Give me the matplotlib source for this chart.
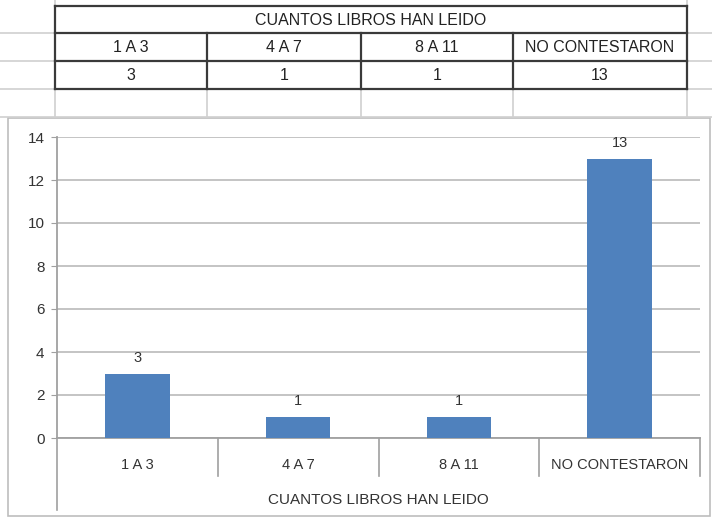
import matplotlib
matplotlib.use("Agg")
import matplotlib.pyplot as plt

plt.rcParams['font.family'] = ['Liberation Sans Narrow', 'Liberation Sans', 'DejaVu Sans']

# data
titulo = "CUANTOS LIBROS HAN LEIDO"
categorias = ["1 A 3", "4 A 7", "8 A 11", "NO CONTESTARON"]
valores = [3, 1, 1, 13]
yticks = [0, 2, 4, 6, 8, 10, 12, 14]

W, H = 712, 519
fig = plt.figure(figsize=(W / 100, H / 100), dpi=100)

# background "spreadsheet" in pixel coords
bg = fig.add_axes([0, 0, 1, 1])
bg.set_xlim(0, W)
bg.set_ylim(H, 0)
bg.axis('off')

# light spreadsheet gridlines
for y in [33, 61, 89, 117]:
    bg.plot([0, W], [y, y], color='#d0d0d0', lw=1.2)
for x in [55, 207, 361, 513, 687]:
    bg.plot([x, x], [89, 117], color='#d0d0d0', lw=1.2)
bg.plot([55, 55], [0, 6], color='#d0d0d0', lw=1.2)
bg.plot([687, 687], [0, 6], color='#d0d0d0', lw=1.2)

# table
cols = [55, 207, 361, 513, 687]
rows = [6, 33, 61, 89]
tk = dict(color='#3a3a3a', lw=1.6)
for y in rows:
    bg.plot([cols[0], cols[-1]], [y, y], **tk)
bg.plot([cols[0], cols[0]], [rows[0], rows[-1]], **tk)
bg.plot([cols[-1], cols[-1]], [rows[0], rows[-1]], **tk)
for x in cols[1:-1]:
    bg.plot([x, x], [rows[1], rows[-1]], **tk)
bg.text((cols[0] + cols[-1]) / 2, (rows[0] + rows[1]) / 2 + 1, titulo,
        ha='center', va='center', fontsize=11.5, color='#222222')
for i, (c, v) in enumerate(zip(categorias, valores)):
    xc = (cols[i] + cols[i + 1]) / 2
    bg.text(xc, (rows[1] + rows[2]) / 2 + 1, c, ha='center', va='center',
            fontsize=11.5, color='#222222')
    bg.text(xc, (rows[2] + rows[3]) / 2 + 1, str(v), ha='center', va='center',
            fontsize=11.5, color='#222222')

# chart border
bg.add_patch(plt.Rectangle((8, 118), 702, 398, fill=False, ec='#bdbdbd', lw=1.2))

# chart
ax = fig.add_axes([57 / W, (H - 438) / H, (700 - 57) / W, (438 - 137) / H])
x = list(range(len(categorias)))
bars = ax.bar(x, valores, width=0.4, color='#4f81bd', zorder=3)
ax.set_xlim(-0.5, len(categorias) - 0.5)
ax.set_ylim(0, 14)
ax.set_yticks(yticks)
ax.yaxis.grid(True, color='#bfbfbf', lw=1.3, zorder=0)
for s in ['top', 'right']:
    ax.spines[s].set_visible(False)
ax.spines['left'].set_color('#a0a0a0')
ax.spines['bottom'].set_color('#a0a0a0')
ax.spines['left'].set_linewidth(1.3)
ax.spines['bottom'].set_linewidth(1.3)
ax.tick_params(axis='y', length=4, color='#a0a0a0', labelsize=11, labelcolor='#333333', pad=5)
ax.tick_params(axis='x', length=0, labelbottom=False)

for b, v in zip(bars, valores):
    ax.annotate(str(v), (b.get_x() + b.get_width() / 2, v), xytext=(0, 6),
                textcoords='offset points', ha='center', va='bottom',
                fontsize=10.5, color='#333333')

# category labels and separators below the axis
tr = ax.get_xaxis_transform()
for i, c in enumerate(categorias):
    ax.text(i, -0.09, c, transform=tr, ha='center', va='center',
            fontsize=10.5, color='#333333')
for i in range(len(categorias) + 1):
    lo = -0.24 if i == 0 else -0.125
    ax.plot([i - 0.5, i - 0.5], [0, lo], transform=tr, color='#a0a0a0',
            lw=1.2, clip_on=False)
ax.text(0.5, -0.205, titulo, transform=ax.transAxes, ha='center', va='center',
        fontsize=11, color='#333333')

fig.savefig("out.png", dpi=100)
